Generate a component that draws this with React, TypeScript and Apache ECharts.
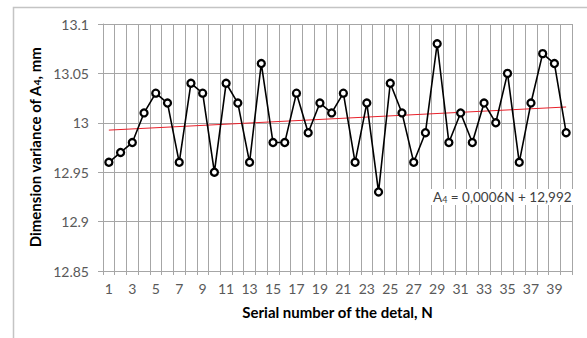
import React, { useEffect, useRef } from "react";
import * as echarts from "echarts";

const categories = Array.from({ length: 40 }, (_, i) => String(i + 1));
const dimensionValues = [
  12.96, 12.97, 12.98, 13.01, 13.03, 13.02, 12.96, 13.04, 13.03, 12.95,
  13.04, 13.02, 12.96, 13.06, 12.98, 12.98, 13.03, 12.99, 13.02, 13.01,
  13.03, 12.96, 13.02, 12.93, 13.04, 13.01, 12.96, 12.99, 13.08, 12.98,
  13.01, 12.98, 13.02, 13.0, 13.05, 12.96, 13.02, 13.07, 13.06, 12.99,
];
// trend line endpoints (N = 1 and N = 40) of A4 = 0,0006N + 12,992
const trendEnds = [12.9926, 13.016];
const yTicks = [12.85, 12.9, 12.95, 13, 13.05, 13.1];

const FONT = "Lato";
const GRID = "#a6a6a6";

export default function App() {
  const ref = useRef<HTMLDivElement>(null);
  useEffect(() => {
    const chart = echarts.init(ref.current!, null, { renderer: "svg" });
    chart.setOption({
      animation: false,
      backgroundColor: "#ffffff",
      textStyle: { fontFamily: FONT },
      grid: { left: 103, top: 24, right: 15, bottom: 67, containLabel: false },
      xAxis: {
        type: "category",
        data: categories,
        boundaryGap: true,
        name: "Serial number of the detal, N",
        nameLocation: "middle",
        nameGap: 33,
        nameTextStyle: { fontFamily: FONT, fontSize: 15, fontWeight: "bold", color: "#000" },
        axisLine: { show: true, lineStyle: { color: GRID, width: 1 } },
        axisTick: { show: true, interval: 0, length: 4, lineStyle: { color: GRID } },
        axisLabel: { interval: 1, margin: 10, fontFamily: FONT, fontSize: 14, color: "#595959" },
        splitLine: { show: true, interval: 0, lineStyle: { color: GRID, width: 1 } },
      },
      yAxis: {
        type: "value",
        min: yTicks[0],
        max: yTicks[yTicks.length - 1],
        interval: 0.05,
        name: "Dimension variance of A{sub|4}, mm",
        nameLocation: "middle",
        nameGap: 51,
        nameRotate: 90,
        nameTextStyle: {
          fontFamily: FONT,
          fontSize: 15,
          fontWeight: "bold",
          color: "#000",
          rich: { sub: { fontFamily: FONT, fontSize: 10, fontWeight: "bold", color: "#000", verticalAlign: "bottom", padding: [5, 0, 0, 0] } },
        },
        axisLine: { show: true, lineStyle: { color: GRID, width: 1 } },
        axisTick: { show: true, length: 5, lineStyle: { color: GRID } },
        axisLabel: {
          margin: 14,
          fontFamily: FONT,
          fontSize: 14,
          color: "#595959",
          formatter: (v: number) => String(Number(v.toFixed(2))),
        },
        splitLine: { show: true, lineStyle: { color: GRID, width: 1 } },
      },
      series: [
        {
          type: "line",
          data: dimensionValues,
          symbol: "circle",
          symbolSize: 7,
          lineStyle: { color: "#000", width: 1.6 },
          itemStyle: { color: "#fff", borderColor: "#000", borderWidth: 2.3 },
          z: 3,
          markLine: {
            silent: true,
            symbol: ["none", "none"],
            label: { show: false },
            lineStyle: { color: "#e8202a", width: 1, type: "solid" },
            data: [
              [
                { coord: [categories[0], trendEnds[0]] },
                { coord: [categories[categories.length - 1], trendEnds[1]] },
              ],
            ],
            z: 2,
          },
        },
      ],
      graphic: [
        {
          type: "rect",
          shape: { x: 13.5, y: 7.5, width: 700, height: 500 },
          style: { fill: "none", stroke: "#c4c4c4", lineWidth: 1.5 },
          silent: true,
          z: 0,
        },
        {
          type: "text",
          x: 431,
          y: 189,
          z: 10,
          style: {
            text: "A{sub|4} = 0,0006N + 12,992",
            fontFamily: FONT,
            fontSize: 13.5,
            fill: "#404040",
            backgroundColor: "#fff",
            padding: [1, 2, 1, 2],
            rich: { sub: { fontFamily: FONT, fontSize: 9, fill: "#404040", padding: [4, 0, 0, 0] } },
          },
        },
      ],
    });
    return () => chart.dispose();
  }, []);
  return (
    <div
      ref={ref}
      style={{ position: "fixed", left: 0, top: 0, width: 587, height: 338 }}
    />
  );
}
